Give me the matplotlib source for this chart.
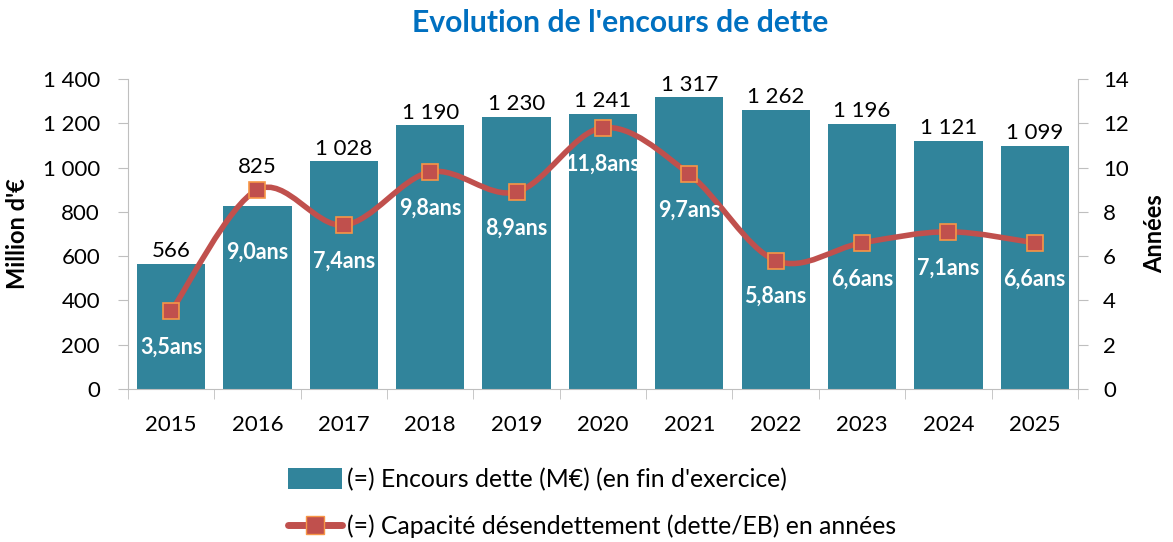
import matplotlib.pyplot as plt
import numpy as np
from matplotlib.path import Path
from matplotlib.patches import PathPatch, Patch
from matplotlib.lines import Line2D
from matplotlib.ticker import FuncFormatter, MultipleLocator

plt.rcParams['font.family'] = ['Lato', 'DejaVu Sans']

# données
annees = ['2015', '2016', '2017', '2018', '2019', '2020', '2021', '2022', '2023', '2024', '2025']
encours = [566, 825, 1028, 1190, 1230, 1241, 1317, 1262, 1196, 1121, 1099]
capacite = [3.5, 9.0, 7.4, 9.8, 8.9, 11.8, 9.7, 5.8, 6.6, 7.1, 6.6]

bar_col = '#31849B'
line_col = '#C0504D'
edge_col = '#F79646'
axis_col = '#BFBFBF'

def fmt_milliers(v, pos=None):
    return f'{int(v):,}'.replace(',', ' ')

fig = plt.figure(figsize=(11.73, 5.42), dpi=100)
ax = fig.add_axes([0.109, 0.2823, 0.810, 0.572])
ax2 = ax.twinx()

x = np.arange(len(annees))
ax.bar(x, encours, width=0.79, color=bar_col, zorder=2)
ax.set_xlim(-0.5, len(annees) - 0.5)
ax.set_ylim(0, 1400)
ax.yaxis.set_major_locator(MultipleLocator(200))
ax.yaxis.set_major_formatter(FuncFormatter(fmt_milliers))
ax.set_xticks(x)
ax.set_xticklabels(annees, fontsize=16)
ax.set_xticks(np.arange(len(annees) + 1) - 0.5, minor=True)
ax.tick_params(axis='x', which='major', length=0, pad=19)
ax.tick_params(axis='x', which='minor', length=7, color=axis_col)
ax.tick_params(axis='y', labelsize=16, length=7, color=axis_col, pad=13)
for s in ['top', 'right']:
    ax.spines[s].set_visible(False)
for s in ['left', 'bottom']:
    ax.spines[s].set_color(axis_col)
ax.set_ylabel("Million d'€", fontsize=17, fontweight='bold', va='center')
ax.yaxis.set_label_coords(-0.116, 0.5)

for i, (xi, v) in enumerate(zip(x, encours)):
    dy = 21 if i == 1 else 2
    ax.annotate(fmt_milliers(v), (xi, v), xytext=(0, dy), textcoords='offset points',
                ha='center', va='bottom', fontsize=16, color='black')

# courbe lissée (Bézier type Catmull-Rom)
y = np.array(capacite)
n = len(y)
verts = [(x[0], y[0])]
codes = [Path.MOVETO]
for i in range(n - 1):
    p0 = np.array([x[max(i - 1, 0)], y[max(i - 1, 0)]])
    p1 = np.array([x[i], y[i]])
    p2 = np.array([x[i + 1], y[i + 1]])
    p3 = np.array([x[min(i + 2, n - 1)], y[min(i + 2, n - 1)]])
    c1 = p1 + (p2 - p0) / 6
    c2 = p2 - (p3 - p1) / 6
    verts += [tuple(c1), tuple(c2), tuple(p2)]
    codes += [Path.CURVE4] * 3
ax2.add_patch(PathPatch(Path(verts, codes), facecolor='none', edgecolor=line_col,
                        lw=4, capstyle='round', zorder=3))
ax2.plot(x, y, ls='none', marker='s', ms=11, mfc=line_col, mec=edge_col, mew=1.2, zorder=4)
ax2.set_ylim(0, 14)
ax2.yaxis.set_major_locator(MultipleLocator(2))
ax2.tick_params(axis='y', labelsize=16, length=7, color=axis_col, pad=11)
for s in ['top', 'left', 'bottom']:
    ax2.spines[s].set_visible(False)
ax2.spines['right'].set_color(axis_col)
ax2.set_ylabel('Années', fontsize=17, fontweight='bold', va='center')
ax2.yaxis.set_label_coords(1.081, 0.5)

for i, (xi, v) in enumerate(zip(x, capacite)):
    dy = -45 if i == 1 else -26
    ax2.annotate(f'{v:.1f}'.replace('.', ',') + 'ans', (xi, v), xytext=(0, dy),
                 textcoords='offset points', ha='center', va='center',
                 fontsize=15.5, fontweight='bold', color='white', zorder=5)

fig.text(0.529, 0.958, "Evolution de l'encours de dette", ha='center', va='center',
         fontsize=21.7, fontweight='bold', color='#0070C0')

handles = [Patch(facecolor=bar_col),
           Line2D([0], [0], color=line_col, lw=5, marker='s', ms=13, mfc=line_col,
                  mec=edge_col, solid_capstyle='round')]
labels = ["(=) Encours dette (M€) (en fin d'exercice)",
          "(=) Capacité désendettement (dette/EB) en années"]
fig.legend(handles, labels, loc='upper left', bbox_to_anchor=(0.2455, 0.137),
           frameon=False, fontsize=17.8, handlelength=2.2, handleheight=0.9,
           handletextpad=0.2, labelspacing=0.95, borderpad=0, borderaxespad=0)

fig.savefig('out.png', dpi=100)
